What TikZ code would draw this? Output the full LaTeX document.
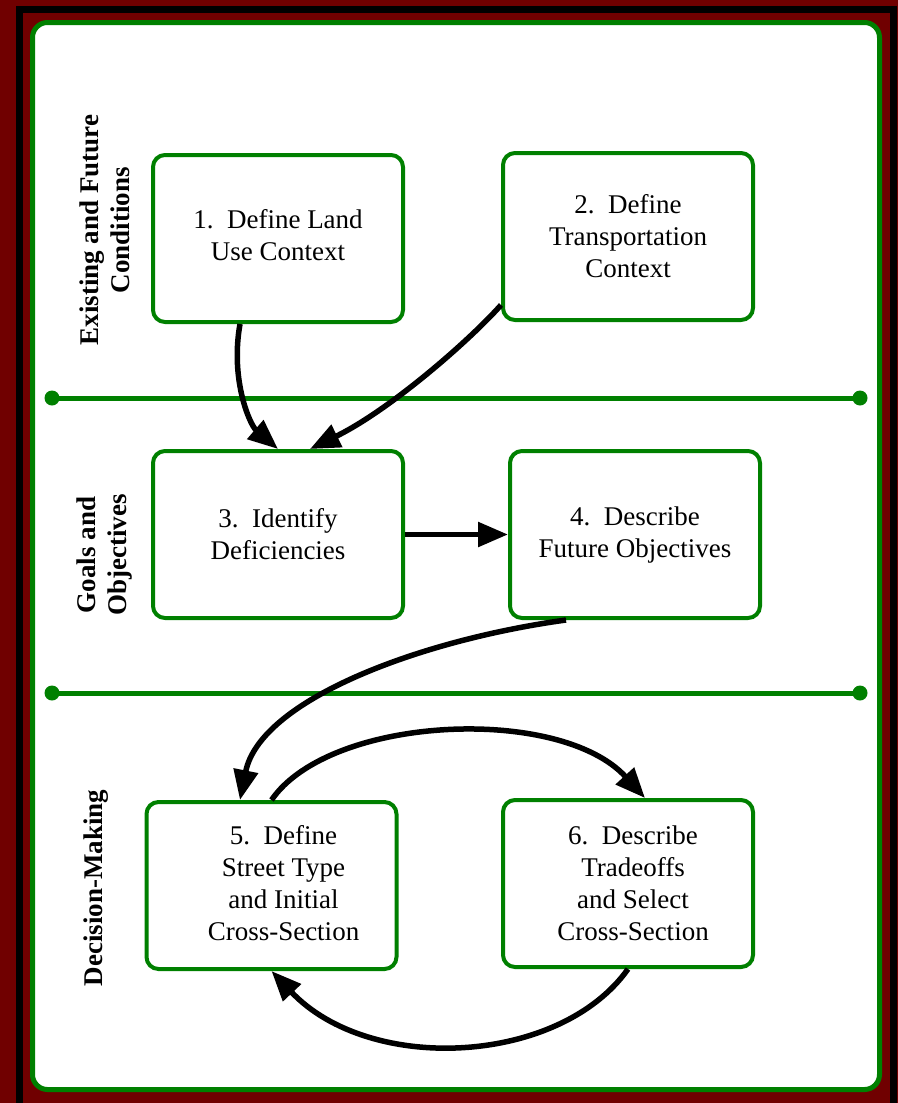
\documentclass[tikz,border=0pt]{standalone}
\usepackage{fontspec}
\setmainfont{Liberation Serif}
\usetikzlibrary{arrows.meta}
\usetikzlibrary{positioning}
\definecolor{framered}{RGB}{112,0,0}
\definecolor{boxgreen}{RGB}{0,128,0}

\begin{document}
\begin{tikzpicture}[x=0.5pt,y=-0.5pt,
  stagetext/.style={align=center, font=\fontsize{13.5}{16}\selectfont},
  stage/.style={stagetext, draw=boxgreen, line width=2pt, rounded corners=6pt, fill=white,
    minimum width=125pt, minimum height=83.5pt},
  phase/.style={rotate=90, align=center, font=\bfseries\fontsize{13.5}{15.5}\selectfont},
  flow/.style={line width=2.75pt, -{Triangle[length=15pt,width=12pt]}}]

  % frame
  \useasboundingbox (0,0) rectangle (898,1103);
  \clip (0,0) rectangle (898,1103);
  \fill [framered] (0,0) rectangle (898,1103);
  \draw [black, line width=3.5pt] (19.5,9.5) rectangle (893.5,1115);
  \draw [boxgreen, line width=2.5pt, fill=white, rounded corners=7.5pt] (32.5,22.5) rectangle (879.5,1089.5);

  % separators between the phases
  \foreach \y/\n in {398/a,693/b} {
    \coordinate (sep\n l) at (52,\y);
    \coordinate (sep\n r) at (860,\y);
    \draw [boxgreen, line width=2.5pt] (sep\n l) -- (sep\n r);
    \fill [boxgreen] (sep\n l) circle (3.75pt) (sep\n r) circle (3.75pt);
  }

  \node [phase] (phase1) at (105,230) {Existing and Future\\Conditions};
  \node [phase] (phase2) at (105,555) {Goals and\\Objectives};
  \node [phase] (phase3) at (96,888) {Decision-Making};

  \node [stage] (box1) at (278,238.5) {};
  \node [stagetext] (box1text) at ([yshift=1.5pt]box1.center) {1.\ \ Define Land\\Use Context};
  \node [stage] (box2) at (628,236.5) {2.\ \ Define\\Transportation\\Context};
  \node [stage] (box3) at (278,534.5) {3.\ \ Identify\\Deficiencies};
  \node [stage] (box4) at (635,534.5) {4.\ \ Describe\\Future Objectives};
  \node [stage] (box5) at (271.5,885.5) {};
  \node [stage] (box6) at (628,883.5) {};
  \node [stagetext] (box5text) at ([xshift=6pt,yshift=1pt]box5.center) {5.\ \ Define\\Street Type\\and Initial\\Cross-Section};
  \node [stagetext] (box6text) at ([xshift=2.5pt]box6.center) {6.\ \ Describe\\Tradeoffs\\and Select\\Cross-Section};

  \draw [flow] ([xshift=-19pt]box1.south) .. controls (230,380) and (250,425) .. (box3.north);
  \draw [flow] ([yshift=8.5pt]box2.south west) .. controls (470,340) and (390,410) .. ([xshift=16pt]box3.north);
  \draw [flow] (box3.east) -- (box4.west);
  \draw [flow] ([xshift=-34.5pt]box4.south) .. controls (420,640) and (260,700) .. ([xshift=-15.75pt]box5.north);
  \draw [flow] (box5.north) .. controls (330,715) and (560,705) .. ([xshift=8.5pt]box6.north);
  \draw [flow] (box6.south) .. controls (560,1065) and (370,1075) .. (box5.south);

\end{tikzpicture}
\end{document}
